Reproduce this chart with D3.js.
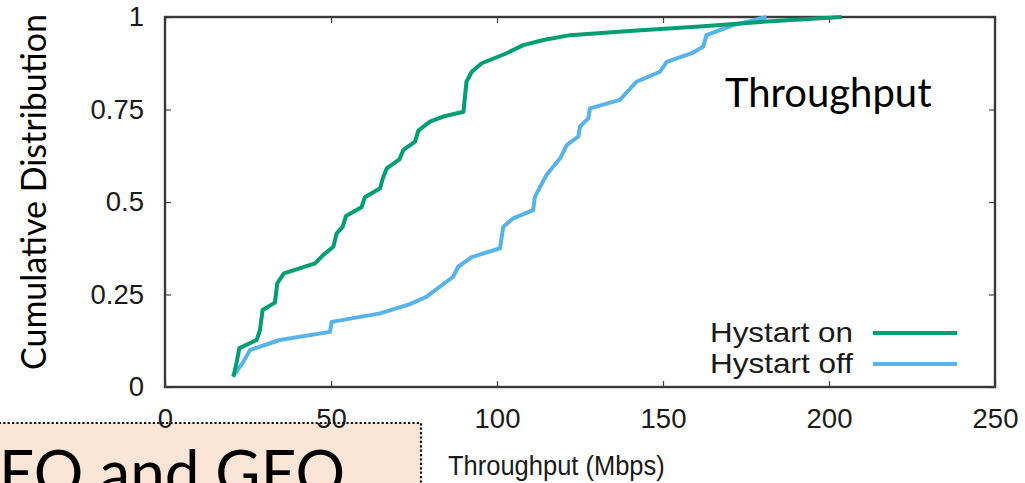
<!DOCTYPE html>
<html>
<head>
<meta charset="utf-8">
<script src="https://cdn.jsdelivr.net/npm/d3@7"></script>
<style>
  html, body { margin: 0; padding: 0; background: #fff; }
  svg { display: block; }
</style>
</head>
<body>
<svg id="chart" width="1025" height="483"></svg>
<script>
// Throughput CDF, Hystart on vs off (Mbps, cumulative fraction)
const hystartOnMbps = [20.6, 21.6, 22.4, 27.6, 28.6, 29.4, 33.1, 33.8, 35.8, 45.2, 47.7, 50.7, 51.7, 53.5, 54.5, 59.2, 60.2, 64.8, 65.6, 66.8, 70.6, 71.8, 75.3, 76.3, 79.8, 83.8, 89.9, 90.8, 92.4, 95.4, 102.9, 107.9, 114.0, 122.0, 141.0, 161.1, 181.2, 203.8];
const hystartOnCdf  = [0.028, 0.068, 0.105, 0.127, 0.154, 0.208, 0.228, 0.280, 0.307, 0.334, 0.357, 0.379, 0.415, 0.433, 0.462, 0.486, 0.513, 0.537, 0.564, 0.591, 0.615, 0.641, 0.663, 0.693, 0.717, 0.731, 0.744, 0.825, 0.852, 0.875, 0.902, 0.924, 0.938, 0.951, 0.963, 0.974, 0.988, 1.0];

const hystartOffMbps = [20.4, 23.6, 25.6, 34.6, 49.7, 50.2, 64.8, 73.8, 78.8, 86.8, 88.3, 92.4, 100.9, 101.9, 104.9, 110.9, 111.4, 114.9, 119.0, 121.0, 124.5, 125.0, 127.5, 128.0, 137.0, 142.0, 149.1, 151.1, 159.1, 162.1, 163.1, 171.2, 181.2];
const hystartOffCdf  = [0.028, 0.068, 0.100, 0.127, 0.149, 0.176, 0.199, 0.224, 0.244, 0.298, 0.325, 0.351, 0.375, 0.433, 0.456, 0.478, 0.514, 0.573, 0.618, 0.654, 0.677, 0.704, 0.726, 0.753, 0.776, 0.825, 0.852, 0.879, 0.904, 0.920, 0.951, 0.978, 1.0];

const seriesNames = ["Hystart on", "Hystart off"];
const xTickValues = [0, 50, 100, 150, 200, 250];
const yTickValues = [0, 0.25, 0.5, 0.75, 1];
const yTickLabels = ["0", "0.25", "0.5", "0.75", "1"];

const svg = d3.select("#chart");
const plot = { left: 165, right: 995, top: 17, bottom: 387 };
const colors = ["#009E73", "#56B4E9"];
const axisFont = "'Liberation Sans', Arial, sans-serif";
const slideFont = "Lato, 'Open Sans', sans-serif";

const x = d3.scaleLinear().domain([0, 250]).range([plot.left, plot.right]);
const y = d3.scaleLinear().domain([0, 1]).range([plot.bottom, plot.top]);

// Slide callout box behind the chart
svg.append("rect")
  .attr("x", -10).attr("y", 423)
  .attr("width", 431).attr("height", 80)
  .attr("fill", "#FBE5D6")
  .attr("stroke", "#111")
  .attr("stroke-width", 2.2)
  .attr("stroke-dasharray", "2.2 2.2");

svg.append("text")
  .attr("x", -1).attr("y", 495)
  .attr("font-family", slideFont)
  .attr("font-size", 62)
  .attr("fill", "#000")
  .text("EO and GEO");

// Axes (gnuplot style: inward ticks, mirrored on top/right)
const tickLen = 6;
const xAxis = d3.axisBottom(x).tickValues(xTickValues).tickSizeInner(-tickLen).tickSizeOuter(0).tickPadding(21);
const yAxis = d3.axisLeft(y).tickValues(yTickValues).tickSizeInner(-tickLen).tickSizeOuter(0).tickPadding(21)
  .tickFormat((d, i) => yTickLabels[i]);
const xAxisTop = d3.axisTop(x).tickValues(xTickValues).tickSizeInner(-tickLen).tickSizeOuter(0).tickFormat("");
const yAxisRight = d3.axisRight(y).tickValues(yTickValues).tickSizeInner(-tickLen).tickSizeOuter(0).tickFormat("");

function styleAxis(g) {
  g.select(".domain").remove();
  g.selectAll(".tick line").attr("stroke", "#444").attr("stroke-width", 1.2);
  g.selectAll(".tick text")
    .attr("fill", "#1a1a1a")
    .attr("font-family", axisFont)
    .attr("font-size", 27.5);
}

svg.append("g").attr("transform", `translate(0,${plot.bottom})`).call(xAxis).call(styleAxis);
svg.append("g").attr("transform", `translate(${plot.left},0)`).call(yAxis).call(styleAxis);
svg.append("g").attr("transform", `translate(0,${plot.top})`).call(xAxisTop).call(styleAxis);
svg.append("g").attr("transform", `translate(${plot.right},0)`).call(yAxisRight).call(styleAxis);

// Border
svg.append("rect")
  .attr("x", plot.left).attr("y", plot.top)
  .attr("width", plot.right - plot.left).attr("height", plot.bottom - plot.top)
  .attr("fill", "none").attr("stroke", "#3a3a3a").attr("stroke-width", 2.4);

// CDF curves
const line = d3.line().x(d => x(d[0])).y(d => y(d[1]));
const series = [
  d3.zip(hystartOnMbps, hystartOnCdf),
  d3.zip(hystartOffMbps, hystartOffCdf)
];
series.slice().reverse().forEach((pts, k) => {
  const i = series.length - 1 - k;
  svg.append("path")
    .datum(pts)
    .attr("d", line)
    .attr("fill", "none")
    .attr("stroke", colors[i])
    .attr("stroke-width", 4)
    .attr("stroke-linejoin", "round")
    .attr("stroke-linecap", "butt");
});

// Legend
seriesNames.forEach((name, i) => {
  const yy = 333 + i * 31;
  svg.append("text")
    .attr("x", 853).attr("y", yy + 9)
    .attr("text-anchor", "end")
    .attr("font-family", axisFont)
    .attr("font-size", 28)
    .attr("textLength", 143)
    .attr("lengthAdjust", "spacingAndGlyphs")
    .attr("fill", "#1a1a1a")
    .text(name);
  svg.append("line")
    .attr("x1", 873).attr("x2", 957)
    .attr("y1", yy).attr("y2", yy)
    .attr("stroke", colors[i]).attr("stroke-width", 4);
});

// Axis titles
svg.append("text")
  .attr("transform", "translate(448,475) scale(1,1.1)")
  .attr("font-family", axisFont)
  .attr("font-size", 25.5)
  .attr("fill", "#1a1a1a")
  .text("Throughput (Mbps)");

svg.append("text")
  .attr("transform", "translate(46,192) rotate(-90)")
  .attr("text-anchor", "middle")
  .attr("font-family", slideFont)
  .attr("font-size", 34)
  .attr("fill", "#000")
  .text("Cumulative Distribution");

// Panel label
svg.append("text")
  .attr("x", 725).attr("y", 107)
  .attr("font-family", slideFont)
  .attr("font-size", 40)
  .attr("fill", "#000")
  .text("Throughput");
</script>
</body>
</html>
